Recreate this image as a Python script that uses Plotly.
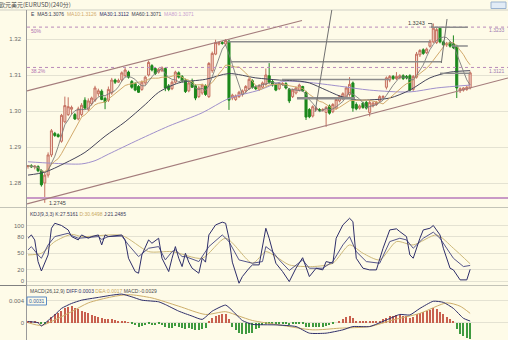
import plotly.graph_objects as go
import pandas as pd

W, H = 508, 340
BG = "#fefbe8"

# ---------------- candle data (EURUSD 240 min) ----------------
open_ = [1.2846,1.2848,1.2845,1.2846,1.2834,1.2800,1.2822,1.2878,1.2938,1.2934,
         1.2916,1.2970,1.2990,1.3005,1.2990,1.2978,1.2990,1.3030,1.3005,1.3020,
         1.3030,1.3048,1.3055,1.3035,1.3030,1.3050,1.3086,1.3080,1.3086,1.3098,
         1.3108,1.3082,1.3076,1.3068,1.3060,1.3078,1.3100,1.3126,1.3118,1.3108,
         1.3112,1.3118,1.3070,1.3062,1.3080,1.3106,1.3096,1.3086,1.3056,1.3082,
         1.3070,1.3040,1.3050,1.3070,1.3040,1.3112,1.3158,1.3186,1.3190,1.3186,
         1.3194,1.3036,1.3032,1.3040,1.3046,1.3056,1.3062,1.3084,1.3066,1.3060,
         1.3066,1.3074,1.3098,1.3082,1.3074,1.3062,1.3074,1.3076,1.3060,1.3040,
         1.3050,1.3058,1.3068,1.3052,1.3004,1.2986,1.3004,1.3004,1.3002,1.2996,
         1.3014,1.2998,1.3008,1.3028,1.3034,1.3038,1.3046,1.3078,1.3018,1.3008,
         1.3022,1.3024,1.2996,1.3014,1.3018,1.3028,1.3038,1.3066,1.3086,1.3096,
         1.3090,1.3092,1.3098,1.3096,1.3098,1.3060,1.3094,1.3156,1.3170,1.3162,
         1.3180,1.3192,1.3190,1.3230,1.3192,1.3184,1.3190,1.3186,1.3180,1.3056,
         1.3058,1.3060,1.3064]
high_ = [1.2850,1.2852,1.2849,1.2849,1.2838,1.2830,1.2885,1.2950,1.2942,1.2938,
         1.2992,1.3040,1.3038,1.3015,1.2995,1.3012,1.3022,1.3038,1.3035,1.3040,
         1.3070,1.3062,1.3060,1.3040,1.3068,1.3092,1.3090,1.3090,1.3110,1.3120,
         1.3112,1.3086,1.3080,1.3072,1.3085,1.3098,1.3140,1.3130,1.3122,1.3120,
         1.3124,1.3122,1.3075,1.3085,1.3112,1.3110,1.3100,1.3090,1.3082,1.3090,
         1.3074,1.3070,1.3076,1.3074,1.3136,1.3165,1.3198,1.3192,1.3194,1.3200,
         1.3198,1.3048,1.3046,1.3056,1.3060,1.3072,1.3094,1.3088,1.3072,1.3075,
         1.3082,1.3118,1.3133,1.3086,1.3078,1.3080,1.3080,1.3080,1.3064,1.3062,
         1.3068,1.3076,1.3070,1.3056,1.3008,1.3016,1.3012,1.3008,1.3008,1.3014,
         1.3018,1.3022,1.3036,1.3044,1.3052,1.3068,1.3094,1.3082,1.3024,1.3018,
         1.3026,1.3028,1.3030,1.3026,1.3028,1.3044,1.3044,1.3096,1.3100,1.3100,
         1.3108,1.3102,1.3102,1.3100,1.3102,1.3100,1.3164,1.3172,1.3174,1.3176,
         1.3198,1.3243,1.3232,1.3234,1.3196,1.3192,1.3194,1.3210,1.3184,1.3066,
         1.3066,1.3070,1.3110]
low_ = [1.2840,1.2842,1.2838,1.2830,1.2790,1.2745,1.2815,1.2872,1.2928,1.2926,
        1.2912,1.2966,1.2986,1.2990,1.2975,1.2974,1.2985,1.3005,1.3000,1.3015,
        1.3025,1.3040,1.3030,1.3005,1.3025,1.3045,1.3075,1.3078,1.3082,1.3094,
        1.3090,1.3062,1.3055,1.3050,1.3056,1.3072,1.3096,1.3110,1.3100,1.3104,
        1.3108,1.3055,1.3055,1.3058,1.3076,1.3090,1.3080,1.3050,1.3052,1.3064,
        1.3030,1.3036,1.3045,1.3042,1.3036,1.3106,1.3155,1.3182,1.3184,1.3180,
        1.3003,1.3030,1.3028,1.3036,1.3040,1.3050,1.3058,1.3062,1.3058,1.3056,
        1.3062,1.3070,1.3076,1.3068,1.3055,1.3058,1.3070,1.3060,1.3022,1.3036,
        1.3046,1.3054,1.3054,1.2975,1.2980,1.2982,1.3000,1.2998,1.2998,1.2956,
        1.2990,1.2994,1.3004,1.3024,1.3030,1.3034,1.3040,1.2998,1.3002,1.3004,
        1.3006,1.3004,1.2985,1.3010,1.3014,1.3024,1.3034,1.3060,1.3080,1.3086,
        1.3086,1.3088,1.3086,1.3088,1.3054,1.3056,1.3090,1.3150,1.3156,1.3158,
        1.3176,1.3188,1.3186,1.3188,1.3180,1.3178,1.3176,1.3172,1.3036,1.3050,
        1.3054,1.3056,1.3060]
close_ = [1.2848,1.2845,1.2847,1.2834,1.2795,1.2822,1.2878,1.2945,1.2932,1.2929,
          1.2988,1.3015,1.3012,1.3010,1.2978,1.3006,1.3016,1.3008,1.3028,1.3036,
          1.3064,1.3056,1.3032,1.3025,1.3060,1.3086,1.3080,1.3085,1.3106,1.3114,
          1.3094,1.3066,1.3058,1.3052,1.3080,1.3094,1.3135,1.3114,1.3104,1.3116,
          1.3120,1.3064,1.3060,1.3080,1.3108,1.3094,1.3084,1.3054,1.3078,1.3066,
          1.3036,1.3064,1.3072,1.3046,1.3132,1.3160,1.3190,1.3190,1.3188,1.3196,
          1.3030,1.3044,1.3042,1.3052,1.3056,1.3068,1.3088,1.3066,1.3062,1.3070,
          1.3078,1.3100,1.3080,1.3072,1.3058,1.3076,1.3076,1.3064,1.3028,1.3058,
          1.3064,1.3072,1.3056,1.2983,1.2984,1.3012,1.3008,1.3002,1.3004,1.3010,
          1.2994,1.3018,1.3032,1.3040,1.3048,1.3064,1.3074,1.3008,1.3006,1.3014,
          1.3010,1.3008,1.3024,1.3022,1.3024,1.3040,1.3040,1.3092,1.3096,1.3090,
          1.3096,1.3098,1.3090,1.3092,1.3058,1.3096,1.3158,1.3168,1.3160,1.3172,
          1.3194,1.3230,1.3226,1.3192,1.3184,1.3188,1.3180,1.3176,1.3064,1.3062,
          1.3064,1.3066,1.3106]
idx = list(range(len(close_)))

# long moving averages
ma30_idx = [0, 5, 11, 17, 23, 29, 35, 39, 45, 53, 60, 68, 75, 81, 84, 89, 93, 98, 102, 108, 114, 120, 126, 132]
ma30_val = [1.2822, 1.2830, 1.2855, 1.2885, 1.2930, 1.2970, 1.3018, 1.3052, 1.3078, 1.3088, 1.3104, 1.3092,
            1.3086, 1.3083, 1.3078, 1.3058, 1.3042, 1.3031, 1.3031, 1.3036, 1.3058, 1.3092, 1.3108, 1.3112]
ma60_idx = [0, 7, 16, 20, 24, 33, 42, 52, 60, 69, 76, 83, 93, 102, 114, 122, 132]
ma60_val = [1.2859, 1.2855, 1.2853, 1.2862, 1.2880, 1.2920, 1.2958, 1.2995, 1.3035, 1.3058, 1.3082,
            1.3080, 1.3069, 1.3058, 1.3053, 1.3064, 1.3072]

# KDJ
j_idx = [0,1,2,3,4,6,7,8,10,12,13,15,16,17,18,19,20,21,22,23,24,26,28,29,30,32,33,34,36,37,39,40,42,43,44,45,46,47,48,49,
         51,52,53,54,56,58,59,60,61,63,64,66,67,69,70,71,72,74,76,78,80,82,84,86,88,89,91,92,94,96,97,98,100,102,104,106,
         108,110,111,113,114,115,117,118,120,121,123,124,126,127,129,131,132]
j_val = [77,83,74,35,18,47,95,104,100,92,80,74,83,80,77,80,81,83,65,83,80,81,83,74,41,17,14,47,74,68,77,41,17,41,62,41,26,50,34,23,
         14,41,34,83,101,106,104,77,34,-4,8,23,29,29,65,95,77,32,17,-1,23,42,8,23,20,35,32,77,101,113,107,41,23,20,20,59,
         92,94,89,80,47,41,77,92,95,100,83,59,23,20,2,2,21]
k_idx = [0,1,3,4,6,8,12,13,15,18,21,22,24,28,30,33,36,39,41,43,44,46,47,51,54,58,60,63,67,70,71,73,75,78,82,84,88,91,94,96,98,
         101,105,108,111,113,115,118,121,123,127,130,132]
k_val = [56,62,47,41,65,80,86,82,77,79,80,75,80,81,65,44,59,62,38,53,56,44,44,35,62,83,71,38,32,35,62,53,38,19,38,23,23,35,65,80,53,
         35,32,71,77,74,59,77,88,77,41,26,28]
d_idx = [0, 4, 8, 13, 16, 28, 36, 43, 52, 59, 67, 71, 74, 78, 85, 91, 96, 100, 105, 110, 115, 122, 127, 132]
d_val = [47, 50, 71, 84, 80, 82, 53, 53, 41, 77, 32, 53, 44, 29, 26, 32, 65, 50, 38, 71, 65, 83, 59, 31]

# MACD
macd_hist = [0.0003,0.0002,0.0003,0.0001,-0.0002,-0.0003,0.0003,0.0010,0.0015,0.0018,
             0.0022,0.0026,0.0028,0.0030,0.0027,0.0025,0.0022,0.0019,0.0017,0.0014,
             0.0012,0.0011,0.0008,0.0007,0.0007,0.0006,0.0005,0.0004,0.0003,0.0002,
             0.0001,-0.0003,-0.0005,-0.0007,-0.0006,-0.0004,-0.0002,-0.0004,-0.0005,-0.0003,
             -0.0004,-0.0008,-0.0010,-0.0009,-0.0006,-0.0008,-0.0009,-0.0012,-0.0010,-0.0012,
             -0.0014,-0.0013,-0.0012,-0.0010,0.0002,0.0008,0.0012,0.0014,0.0015,0.0016,
             0.0006,-0.0008,-0.0014,-0.0018,-0.0020,-0.0020,-0.0018,-0.0019,-0.0012,-0.0010,
             -0.0005,-0.0002,-0.0002,-0.0003,-0.0003,-0.0002,-0.0002,-0.0002,-0.0004,-0.0003,
             -0.0003,-0.0002,-0.0003,-0.0007,-0.0008,-0.0008,-0.0007,-0.0008,-0.0007,-0.0006,
             -0.0005,-0.0003,0.0000,0.0003,0.0006,0.0010,0.0013,0.0008,0.0004,0.0003,
             0.0002,0.0002,0.0002,0.0002,0.0003,0.0004,0.0006,0.0009,0.0012,0.0013,
             0.0014,0.0014,0.0013,0.0012,0.0009,0.0010,0.0015,0.0018,0.0019,0.0021,
             0.0023,0.0026,0.0025,0.0020,0.0015,0.0010,0.0006,0.0002,-0.0012,-0.0020,
             -0.0025,-0.0028,-0.0029]
diff_idx = [0,3,4,6,8,10,13,16,21,25,28,31,34,39,41,45,49,52,55,59,61,64,67,74,80,84,89,94,97,102,107,111,114,117,121,124,127,130,132]
diff_val = [0.0002,0.0000,-0.0006,0.0004,0.0014,0.0026,0.0035,0.0041,0.0046,0.0050,0.0052,0.0047,0.0041,0.0038,0.0033,
            0.0021,0.0012,0.0006,0.0021,0.0032,0.0022,0.0004,-0.0003,-0.0004,-0.0007,-0.0019,-0.0019,-0.0013,-0.0007,-0.0007,
            0.0005,0.0015,0.0014,0.0026,0.0039,0.0037,0.0026,0.0008,0.0003]
dea_idx = [0,4,8,13,18,25,30,37,45,53,59,63,67,75,85,93,102,109,117,125,129,132]
dea_val = [0.0000,-0.0005,0.0005,0.0020,0.0036,0.0047,0.0051,0.0045,0.0030,0.0015,0.0020,0.0012,0.0004,-0.0004,-0.0013,
           -0.0010,-0.0007,0.0005,0.0017,0.0036,0.0030,0.0017]

price_ticks = [1.28, 1.29, 1.30, 1.31, 1.32]
price_tick_text = ["1.28", "1.29", "1.30", "1.31", "1.32"]
kdj_ticks = [0, 20, 50, 80, 100]
macd_ticks = [0, 0.004]
macd_tick_text = ["0", "0.004"]

# ---------------- figure ----------------
FONT = "Liberation Sans, Arial, sans-serif"
BULL_LINE, BULL_FILL = "#c4705f", "#f6d6cb"
BEAR = "#1c881c"

ma5 = pd.Series(close_).rolling(5, min_periods=1).mean()
ma10 = pd.Series(close_).rolling(10, min_periods=1).mean()

fig = go.Figure()
fig.add_trace(go.Scatter(x=ma60_idx, y=ma60_val, mode="lines", line=dict(color="#a090cc", width=1, shape="spline", smoothing=0.8), hoverinfo="skip"))
fig.add_trace(go.Scatter(x=ma30_idx, y=ma30_val, mode="lines", line=dict(color="#45455a", width=1, shape="spline", smoothing=0.8), hoverinfo="skip"))
fig.add_trace(go.Scatter(x=idx, y=ma10, mode="lines", line=dict(color="#d2aa6c", width=1), hoverinfo="skip"))
fig.add_trace(go.Scatter(x=idx, y=ma5, mode="lines", line=dict(color="#7a7a7a", width=0.9), hoverinfo="skip"))
fig.add_trace(go.Candlestick(x=idx, open=open_, high=high_, low=low_, close=close_,
                             increasing=dict(line=dict(color=BULL_LINE, width=1), fillcolor=BULL_FILL),
                             decreasing=dict(line=dict(color=BEAR, width=1), fillcolor=BEAR),
                             whiskerwidth=0, hoverinfo="skip", xaxis="x", yaxis="y"))

# KDJ
fig.add_trace(go.Scatter(x=d_idx, y=d_val, mode="lines", yaxis="y2", line=dict(color="#cdb97a", width=1, shape="spline", smoothing=0.7), hoverinfo="skip"))
fig.add_trace(go.Scatter(x=k_idx, y=k_val, mode="lines", yaxis="y2", line=dict(color="#55558a", width=1), hoverinfo="skip"))
fig.add_trace(go.Scatter(x=j_idx, y=j_val, mode="lines", yaxis="y2", line=dict(color="#2e2e6a", width=1), hoverinfo="skip"))

# MACD
hist_colors = ["#c8604e" if v >= 0 else "#3f9a3f" for v in macd_hist]
fig.add_trace(go.Bar(x=idx, y=macd_hist, yaxis="y3", marker=dict(color=hist_colors, line=dict(width=0)), width=0.32, hoverinfo="skip"))
fig.add_trace(go.Scatter(x=dea_idx, y=dea_val, mode="lines", yaxis="y3", line=dict(color="#cdae6a", width=1, shape="spline", smoothing=0.7), hoverinfo="skip"))
fig.add_trace(go.Scatter(x=diff_idx, y=diff_val, mode="lines", yaxis="y3", line=dict(color="#2e2e6a", width=1, shape="spline", smoothing=0.5), hoverinfo="skip"))


def px(x):
    return x / W


def py(y):
    return 1 - y / H


GRID = "#e4e2d2"
AX_COMMON = dict(showline=False, zeroline=False, ticks="", gridcolor=GRID, gridwidth=1,
                 tickfont=dict(family=FONT, size=6, color="#6a6a6a"), fixedrange=True)

fig.update_layout(
    width=W, height=H, margin=dict(l=0, r=0, t=0, b=0),
    paper_bgcolor=BG, plot_bgcolor=BG, showlegend=False, bargap=0, boxgap=0.12,
    xaxis=dict(domain=[px(27), 1], range=[-0.3, 143.3], showticklabels=False, showgrid=False,
               zeroline=False, anchor="y3", rangeslider=dict(visible=False), fixedrange=True),
    yaxis=dict(domain=[py(206), py(10)], range=[1.273611, 1.328056], tickvals=price_ticks,
               ticktext=price_tick_text, anchor="x", ticklabelstandoff=5, **AX_COMMON),
    yaxis2=dict(domain=[py(285), py(208)], range=[-7.2, 131.5], tickvals=kdj_ticks, anchor="x",
                ticklabelstandoff=2, **AX_COMMON),
    yaxis3=dict(domain=[0, py(286)], range=[-0.003145, 0.006673], tickvals=macd_ticks,
                ticktext=macd_tick_text, anchor="x", ticklabelstandoff=2, **AX_COMMON),
)

shapes = []
# panel borders
for yy, col in [(10, "#cfcfc4"), (207.5, "#c4c4b8"), (285.5, "#c4c4b8")]:
    shapes.append(dict(type="line", xref="paper", yref="paper", x0=0, x1=1, y0=py(yy), y1=py(yy), line=dict(color=col, width=1)))
shapes.append(dict(type="line", xref="paper", yref="paper", x0=0, x1=px(26.5), y0=py(285.5), y1=py(285.5), line=dict(color="#808080", width=1)))
shapes.append(dict(type="line", xref="paper", yref="paper", x0=px(26.5), x1=px(26.5), y0=0, y1=py(10), line=dict(color="#9a9a9a", width=1)))

# fibonacci levels
FIB = "#b98ab9"
shapes.append(dict(type="line", xref="paper", yref="y", x0=px(27), x1=1, y0=1.3233, y1=1.3233, line=dict(color=FIB, width=1, dash="dot")))
shapes.append(dict(type="line", xref="paper", yref="y", x0=px(27), x1=1, y0=1.3121, y1=1.3121, line=dict(color=FIB, width=1, dash="dot")))
shapes.append(dict(type="line", xref="paper", yref="y", x0=px(27), x1=1, y0=1.2758, y1=1.2758, line=dict(color="#c99ac6", width=2)))

# channel lines
CH = "#a47c7c"
shapes.append(dict(type="line", xref="x", yref="y", x0=-0.3, y0=1.30556, x1=81.8, y1=1.32514, line=dict(color=CH, width=1.2)))
shapes.append(dict(type="line", xref="x", yref="y", x0=-0.3, y0=1.27417, x1=143.3, y1=1.30917, line=dict(color=CH, width=1.2)))

# drawn horizontal gray lines
GR = "#8c8c8c"
for (xa, xb, yv, wd) in [(59.7, 120.0, 1.31925, 1.5), (120.3, 131.3, 1.32325, 1.5), (60.3, 123.6, 1.31369, 1.5),
                         (126.6, 131.3, 1.31806, 1.5), (123.0, 132.0, 1.31047, 1.5), (75.8, 108.0, 1.30875, 1.5),
                         (80.3, 97.6, 1.30353, 2.5)]:
    shapes.append(dict(type="line", xref="x", yref="y", x0=xa, x1=xb, y0=yv, y1=yv, line=dict(color=GR, width=wd)))
# steep drawn lines
shapes.append(dict(type="line", xref="x", yref="y", x0=85.7, y0=1.29972, x1=90.7, y1=1.32806, line=dict(color="#707070", width=1)))
shapes.append(dict(type="line", xref="x", yref="y", x0=123.4, y0=1.31333, x1=125.1, y1=1.32556, line=dict(color="#707070", width=1)))
# high marker arrow
shapes.append(dict(type="path", xref="paper", yref="paper",
                   path=f"M {px(428)} {py(23.5)} L {px(432)} {py(23.5)} L {px(432)} {py(27)}",
                   line=dict(color="#505050", width=0.8)))
# MACD value box and top icon
shapes.append(dict(type="rect", xref="paper", yref="paper", x0=px(27), x1=px(46.5), y0=py(305), y1=py(297),
                   line=dict(color="#5a8ac4", width=1), fillcolor=BG))
shapes.append(dict(type="rect", xref="paper", yref="paper", x0=px(491), x1=px(506), y0=py(8.5), y1=py(2),
                   line=dict(color="#9ab2cf", width=1), fillcolor="#e2ecf6"))
fig.update_layout(shapes=shapes)

ann = []


def text(x, y, s, color="#404040", size=5.5, xanchor="left", family=FONT):
    ann.append(dict(xref="paper", yref="paper", x=px(x), y=py(y), text=s, showarrow=False,
                    xanchor=xanchor, yanchor="middle", font=dict(family=family, size=size, color=color)))


text(-3, 4.5, "欧元美元(EURUSD)(240分)", "#4a4a4a", 6, family="Noto Sans CJK SC, sans-serif")
text(29, 14.5, "E&nbsp;&nbsp;<span style='color:#3a3a50'>MA5:1.3076</span>&nbsp;&nbsp;"
               "<span style='color:#d2aa6c'>MA10:1.3126</span>&nbsp;&nbsp;"
               "<span style='color:#2e2e6a'>MA30:1.3112</span>&nbsp;&nbsp;"
               "<span style='color:#3a3a50'>MA60:1.3071</span>&nbsp;&nbsp;"
               "<span style='color:#c8a0d0'>MA80:1.3071</span>", "#3a3a50", 5)
text(29, 30.5, "50%", "#b070b0", 5)
text(29, 70.5, "38.2%", "#b070b0", 5)
text(507, 30, "1.3233", "#a07cb0", 5, "right")
text(507, 71, "1.3121", "#a07cb0", 5, "right")
text(427, 23.5, "1.3243", "#404040", 5.5, "right")
text(47, 202.5, "1.2745", "#404040", 5.5)
text(28, 213.5, "KDJ(9,3,3) K:27.5161 <span style='color:#c8a860'>D:30.6498</span> J:21.2485", "#3a3a5a", 5)
text(28, 290.5, "MACD(26,12,9) <span style='color:#2e2e6a'>DIFF:0.0003</span> <span style='color:#c8a860'>DEA:0.0017</span> MACD:-0.0029", "#4a4a4a", 5)
text(36.8, 301, "0.0031", "#3060a0", 5, "center")
fig.update_layout(annotations=ann)

fig.write_html("out.html")
